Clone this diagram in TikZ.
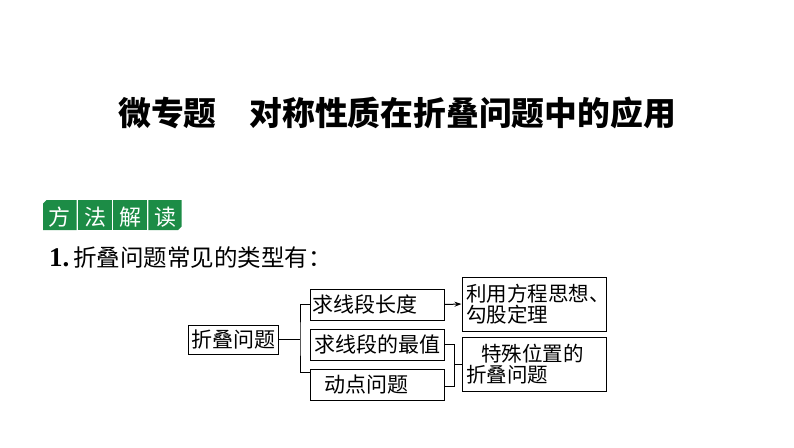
\documentclass[tikz,border=0pt]{standalone}
\usepackage{fontspec}
\setmainfont{Liberation Serif}
\newfontfamily\cjk{Noto Sans CJK SC}
\usetikzlibrary{arrows.meta,calc}
\definecolor{badgegreen}{RGB}{28,140,70}
\begin{document}
\begin{tikzpicture}[x=1pt,y=-1pt,
  box/.style={draw=black,line width=1pt,inner sep=0pt,font=\cjk\fontsize{21}{21}\selectfont},
  conn/.style={line width=1pt},
  celltxt/.style={text=white,font=\cjk\fontsize{22}{22}\selectfont,inner sep=0pt}]
\useasboundingbox (0,0) rectangle (794,447);
\fill[white] (0,0) rectangle (794,447);
% title
\node[font=\cjk\bfseries\fontsize{32.8}{33}\selectfont, inner sep=0pt] (title) at (397,113) {微专题\hspace{1em}对称性质在折叠问题中的应用};
% badge
\fill[badgegreen] (43,203.5) -- (46.5,200) -- (76.5,200) -- (76.5,230) -- (43,230) -- cycle;
\fill[badgegreen] (78.3,200) rectangle (111.7,230);
\fill[badgegreen] (113.3,200) rectangle (146.7,230);
\fill[badgegreen] (148.3,200) -- (181.7,200) -- (181.7,226.5) -- (178.2,230) -- (148.3,230) -- cycle;
\node[celltxt] (c1) at (59.8,217) {方};
\node[celltxt] (c2) at (95,217) {法};
\node[celltxt] (c3) at (130,217) {解};
\node[celltxt] (c4) at (165,217) {读};
% item
\node[anchor=base west, inner sep=0pt] (item) at (49,266.5) {\fontsize{27}{27}\selectfont\bfseries 1.\hspace{4pt}\cjk\mdseries\fontsize{23.5}{23.5}\selectfont 折叠问题常见的类型有：};
% boxes
\node[box, minimum width=90pt, minimum height=29pt] (f) at (233,339.5) {折叠问题};
\node[box, minimum width=134pt, minimum height=31pt, text width=134pt, align=left] (b1) at (377,304.5) {\hspace*{2pt}求线段长度};
\node[box, minimum width=134pt, minimum height=31pt] (b2) at (377,344.5) {求线段的最值};
\node[box, minimum width=134pt, minimum height=31pt, text width=134pt, align=left] (b3) at (377,384.5) {\hspace*{14pt}动点问题};
\node[box, minimum width=144pt, minimum height=54pt, text width=144pt, align=left, font=\cjk\fontsize{20.5}{21}\selectfont] (r1) at (534,304) {\hspace*{4pt}利用方程思想、\\\hspace*{4pt}勾股定理};
\node[box, minimum width=144pt, minimum height=54pt, text width=144pt, align=left, font=\cjk\fontsize{20.5}{20.5}\selectfont] (r2) at (534,364) {\hspace*{19pt}特殊位置的\\\hspace*{4pt}折叠问题};
% connectors
\coordinate (j) at (300,339.5);
\coordinate (k) at (454,364);
\draw[conn] (f.east) -- (j);
\draw[conn] (b1.west) -| (j) |- ($(b3.north west)+(0,4)$);
\draw[conn,-{Stealth[length=7pt,width=5pt]}] (b1.east) -- (r1.west);
\draw[conn] (b2.east) -| (k);
\draw[conn] ($(b3.east)+(0,1.5)$) -| (k);
\draw[conn] (k) -- (r2.west);
\end{tikzpicture}
\end{document}
